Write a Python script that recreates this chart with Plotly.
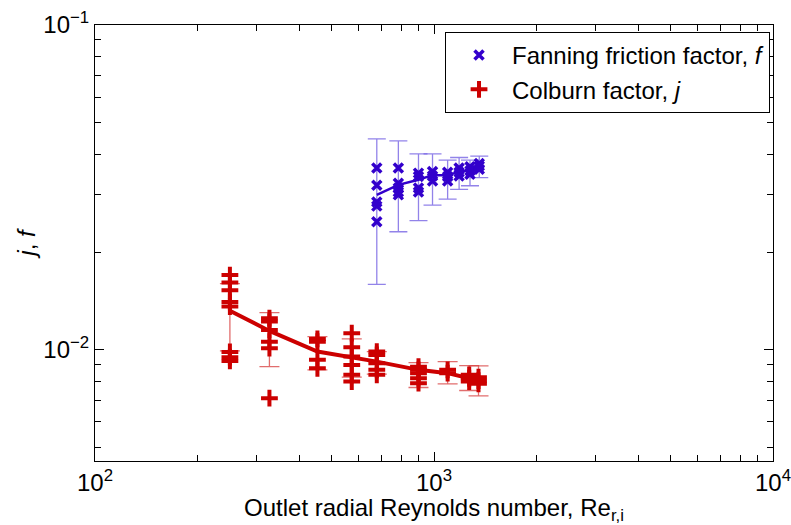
import plotly.graph_objects as go

# ---- Fanning friction factor f ----
f_re = [678, 785, 900, 990, 1097, 1186, 1277, 1360]
f_points = [
    [0.0363, 0.0321, 0.0285, 0.0277, 0.0248],
    [0.0363, 0.0326, 0.0315, 0.0306, 0.0300],
    [0.0350, 0.0342, 0.0315, 0.0306],
    [0.0354, 0.0343, 0.0331],
    [0.0352, 0.0342, 0.0331],
    [0.0363, 0.0352, 0.0343],
    [0.0366, 0.0356, 0.0347],
    [0.0375, 0.0368, 0.0360],
]
f_mean = [0.0300, 0.0322, 0.0334, 0.0345, 0.0345, 0.0353, 0.0358, 0.0366]
f_err_top = [0.0446, 0.0440, 0.0401, 0.0401, 0.0384, 0.0391, 0.0384, 0.0395]
f_err_bot = [0.0159, 0.0231, 0.0250, 0.0279, 0.0291, 0.0312, 0.0320, 0.0339]

# ---- Colburn factor j ----
j_re = [250, 327, 453, 572, 678, 900, 1097, 1270, 1353]
j_points = [
    [0.01699, 0.01611, 0.01525, 0.01405, 0.01359, 0.00986, 0.00950, 0.00925],
    [0.01252, 0.01222, 0.01152, 0.01060, 0.01012, 0.00710],
    [0.01081, 0.01060, 0.00932, 0.00878],
    [0.01126, 0.01019, 0.00954, 0.00899, 0.00838, 0.00799],
    [0.00988, 0.00965, 0.00910, 0.00868, 0.00838],
    [0.00888, 0.00868, 0.00848, 0.00818, 0.00790],
    [0.00868, 0.00848],
    [0.00838, 0.00818, 0.00799],
    [0.00824, 0.00804, 0.00786],
]
j_mean = [0.01320, 0.01144, 0.00988, 0.00950, 0.00920, 0.00868, 0.00848, 0.00818, 0.00803]
j_err_top = [0.01600, 0.01303, 0.01099, 0.01081, 0.00988, 0.00914, 0.00920, 0.00895, 0.00893]
j_err_bot = [0.00993, 0.00888, 0.00868, 0.00824, 0.00842, 0.00766, 0.00786, 0.00750, 0.00722]

x_tickvals = [100, 1000, 10000]
x_ticktext = ["10<sup>2</sup>", "10<sup>3</sup>", "10<sup>4</sup>"]
y_tickvals = [0.01, 0.1]
y_ticktext = ["10<sup>\u22122</sup>", "10<sup>\u22121</sup>"]

BLUE = "#3300cc"
BLUE_ERR = "rgba(110,90,225,0.75)"
RED = "#cc0000"
RED_ERR = "rgba(215,60,60,0.75)"

def flatten(xs, groups):
    px, py = [], []
    for x, g in zip(xs, groups):
        for v in g:
            px.append(x)
            py.append(v)
    return px, py

fig = go.Figure()

# mean lines with error bars
fig.add_trace(go.Scatter(
    x=f_re, y=f_mean, mode="lines", showlegend=False,
    line=dict(color=BLUE, width=2.5),
    error_y=dict(type="data", symmetric=False,
                 array=[t - m for t, m in zip(f_err_top, f_mean)],
                 arrayminus=[m - b for b, m in zip(f_err_bot, f_mean)],
                 color=BLUE_ERR, thickness=1.3, width=9),
))
fig.add_trace(go.Scatter(
    x=j_re, y=j_mean, mode="lines", showlegend=False,
    line=dict(color=RED, width=4),
    error_y=dict(type="data", symmetric=False,
                 array=[t - m for t, m in zip(j_err_top, j_mean)],
                 arrayminus=[m - b for b, m in zip(j_err_bot, j_mean)],
                 color=RED_ERR, thickness=1.3, width=10),
))

fx, fy = flatten(f_re, f_points)
jx, jy = flatten(j_re, j_points)

fig.add_trace(go.Scatter(
    x=fx, y=fy, mode="markers", name="Fanning friction factor, <i>f</i>",
    marker=dict(symbol="x-thin", size=9, color=BLUE, line=dict(color=BLUE, width=3.5)),
))
fig.add_trace(go.Scatter(
    x=jx, y=jy, mode="markers", name="Colburn factor, <i>j</i>",
    marker=dict(symbol="cross-thin", size=12, color=RED, line=dict(color=RED, width=4)),
))

font = dict(family="Liberation Sans, Arial, Helvetica, sans-serif", size=24, color="black")

axis_common = dict(
    type="log", showline=True, linecolor="black", linewidth=1, mirror="ticks",
    ticks="inside", ticklen=9, tickcolor="black", showgrid=False, zeroline=False,
    minor=dict(ticks="inside", ticklen=6, tickcolor="black", dtick="D1", showgrid=False),
    tickfont=font, ticklabeloverflow="allow", automargin=False,
)

fig.update_layout(
    width=791, height=525,
    margin=dict(l=95, r=18, t=25, b=64, autoexpand=False),
    paper_bgcolor="white", plot_bgcolor="white",
    font=font,
    xaxis=dict(axis_common, range=[2, 4], tickvals=x_tickvals, ticktext=x_ticktext,
               title=dict(text="Outlet radial Reynolds number, Re<sub>r,i</sub>", font=font, standoff=2)),
    yaxis=dict(axis_common, range=[-2.342, -1], tickvals=y_tickvals, ticktext=y_ticktext,
               title=dict(text="<i>j</i>, <i>f</i>", font=font, standoff=0)),
    legend=dict(x=0.9956, y=0.984, xanchor="right", yanchor="top",
                bordercolor="black", borderwidth=1, bgcolor="white",
                font=font, itemwidth=56, tracegroupgap=0),
)

fig.write_html("out.html")
